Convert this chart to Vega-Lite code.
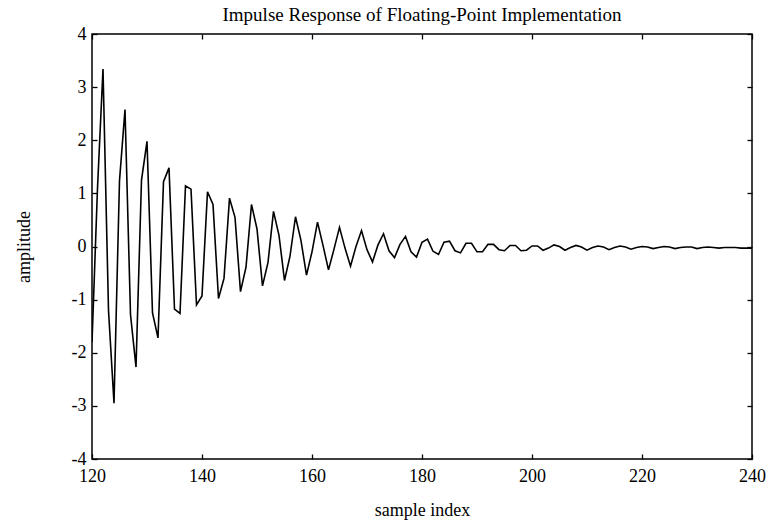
{
  "$schema": "https://vega.github.io/schema/vega-lite/v6.json",
  "width": 660,
  "height": 425,
  "autosize": {"type": "none"},
  "padding": {"left": 92, "top": 34, "right": 29, "bottom": 61},
  "background": "white",
  "title": {"text": "Impulse Response of Floating-Point Implementation", "font": "Liberation Serif", "fontSize": 19, "fontWeight": "normal", "color": "black", "offset": 0},
  "config": {
    "view": {"stroke": "black", "strokeWidth": 1.5},
    "axis": {"grid": false, "domain": false, "tickColor": "black", "tickWidth": 1.3, "tickSize": -5, "labelFont": "Liberation Serif", "labelFontSize": 18, "labelColor": "black", "titleFont": "Liberation Serif", "titleFontSize": 18, "titleFontWeight": "normal", "titleColor": "black", "labelExpr": "'' + datum.value"}
  },
  "data": {"values": [
    {"n":120,"v":-1.8},{"n":121,"v":1.1},{"n":122,"v":3.34},{"n":123,"v":-1.2},{"n":124,"v":-2.95},
    {"n":125,"v":1.24},{"n":126,"v":2.58},{"n":127,"v":-1.28},{"n":128,"v":-2.27},{"n":129,"v":1.25},
    {"n":130,"v":1.98},{"n":131,"v":-1.25},{"n":132,"v":-1.72},{"n":133,"v":1.22},{"n":134,"v":1.48},
    {"n":135,"v":-1.18},{"n":136,"v":-1.26},{"n":137,"v":1.14},{"n":138,"v":1.08},{"n":139,"v":-1.1},
    {"n":140,"v":-0.93},{"n":141,"v":1.03},{"n":142,"v":0.79},{"n":143,"v":-0.98},{"n":144,"v":-0.6},
    {"n":145,"v":0.91},{"n":146,"v":0.55},{"n":147,"v":-0.85},{"n":148,"v":-0.39},{"n":149,"v":0.79},
    {"n":150,"v":0.33},{"n":151,"v":-0.74},{"n":152,"v":-0.3},{"n":153,"v":0.66},{"n":154,"v":0.21},
    {"n":155,"v":-0.64},{"n":156,"v":-0.18},{"n":157,"v":0.56},{"n":158,"v":0.11},{"n":159,"v":-0.54},
    {"n":160,"v":-0.1},{"n":161,"v":0.46},{"n":162,"v":0.02},{"n":163,"v":-0.44},{"n":164,"v":-0.05},
    {"n":165,"v":0.36},{"n":166,"v":-0.03},{"n":167,"v":-0.37},{"n":168,"v":0.0},{"n":169,"v":0.3},
    {"n":170,"v":-0.06},{"n":171,"v":-0.29},{"n":172,"v":0.03},{"n":173,"v":0.24},{"n":174,"v":-0.08},
    {"n":175,"v":-0.21},{"n":176,"v":0.04},{"n":177,"v":0.19},{"n":178,"v":-0.1},{"n":179,"v":-0.2},
    {"n":180,"v":0.08},{"n":181,"v":0.14},{"n":182,"v":-0.09},{"n":183,"v":-0.15},{"n":184,"v":0.08},
    {"n":185,"v":0.1},{"n":186,"v":-0.08},{"n":187,"v":-0.12},{"n":188,"v":0.06},{"n":189,"v":0.06},
    {"n":190,"v":-0.1},{"n":191,"v":-0.1},{"n":192,"v":0.04},{"n":193,"v":0.04},{"n":194,"v":-0.06},
    {"n":195,"v":-0.08},{"n":196,"v":0.02},{"n":197,"v":0.02},{"n":198,"v":-0.08},{"n":199,"v":-0.07},
    {"n":200,"v":0.01},{"n":201,"v":0.01},{"n":202,"v":-0.07},{"n":203,"v":-0.03},{"n":204,"v":0.03},
    {"n":205,"v":0.0},{"n":206,"v":-0.07},{"n":207,"v":-0.02},{"n":208,"v":0.02},{"n":209,"v":-0.01},
    {"n":210,"v":-0.07},{"n":211,"v":-0.02},{"n":212,"v":0.01},{"n":213,"v":-0.01},{"n":214,"v":-0.06},
    {"n":215,"v":-0.02},{"n":216,"v":0.01},{"n":217,"v":-0.01},{"n":218,"v":-0.05},{"n":219,"v":-0.02},
    {"n":220,"v":0.0},{"n":221,"v":-0.01},{"n":222,"v":-0.04},{"n":223,"v":-0.02},{"n":224,"v":0.0},
    {"n":225,"v":-0.01},{"n":226,"v":-0.04},{"n":227,"v":-0.02},{"n":228,"v":-0.01},{"n":229,"v":-0.01},
    {"n":230,"v":-0.04},{"n":231,"v":-0.02},{"n":232,"v":-0.01},{"n":233,"v":-0.02},{"n":234,"v":-0.03},
    {"n":235,"v":-0.02},{"n":236,"v":-0.02},{"n":237,"v":-0.02},{"n":238,"v":-0.03},{"n":239,"v":-0.03},
    {"n":240,"v":-0.03}
  ]},
  "layer": [
    {
      "mark": {"type": "line", "color": "black", "strokeWidth": 1.6, "clip": true},
      "encoding": {
        "x": {"field": "n", "type": "quantitative", "scale": {"domain": [120, 240], "nice": false, "zero": false},
              "axis": {"orient": "bottom", "values": [120, 140, 160, 180, 200, 220, 240], "title": "sample index", "labelPadding": 13, "titlePadding": 16, "labelFlush": false}},
        "y": {"field": "v", "type": "quantitative", "scale": {"domain": [-4, 4], "nice": false, "zero": false},
              "axis": {"orient": "left", "values": [-4, -3, -2, -1, 0, 1, 2, 3, 4], "title": "amplitude", "labelPadding": 11, "titlePadding": 38, "labelFlush": false}}
      }
    },
    {
      "mark": {"type": "line", "opacity": 0},
      "encoding": {
        "x": {"field": "n", "type": "quantitative", "scale": {"domain": [120, 240], "nice": false, "zero": false},
              "axis": {"orient": "top", "values": [120, 140, 160, 180, 200, 220, 240], "labels": false, "title": null}},
        "y": {"field": "v", "type": "quantitative", "scale": {"domain": [-4, 4], "nice": false, "zero": false},
              "axis": {"orient": "right", "values": [-4, -3, -2, -1, 0, 1, 2, 3, 4], "labels": false, "title": null}}
      }
    }
  ],
  "resolve": {"axis": {"x": "independent", "y": "independent"}}
}
